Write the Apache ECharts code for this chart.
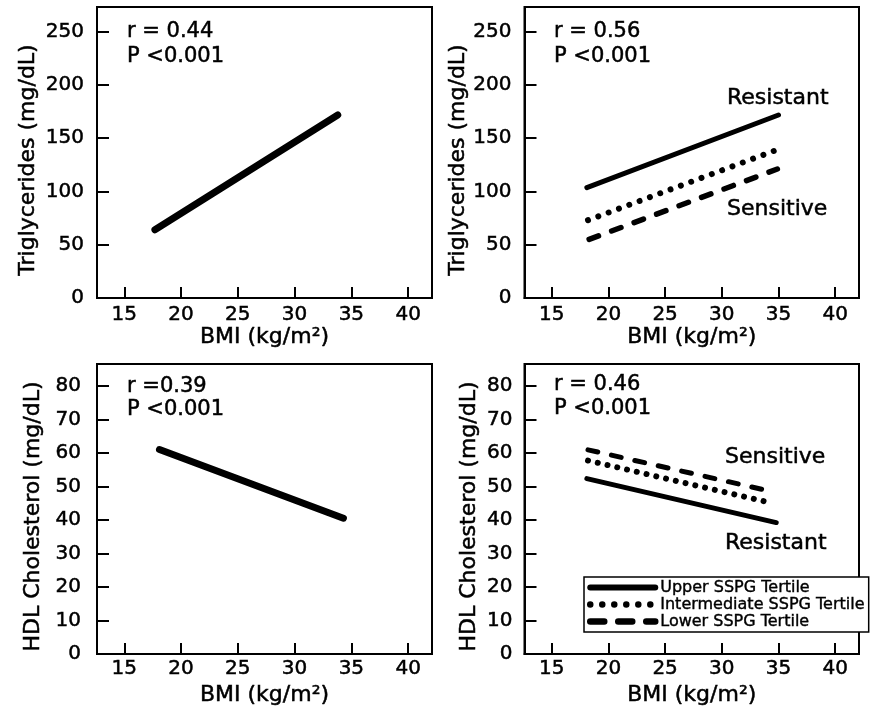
<!DOCTYPE html>
<html><head><meta charset="utf-8">
<script src="https://cdn.jsdelivr.net/npm/echarts@6/dist/echarts.min.js"></script>
<style>html,body{margin:0;padding:0;background:#fff}#c{width:870px;height:708px}</style>
</head><body><div id="c"></div>
<script>
// Tick labels
const bmiTicks = [15, 20, 25, 30, 35, 40];
const tgTicks = [0, 50, 100, 150, 200, 250];
const hdlTicks = [0, 10, 20, 30, 40, 50, 60, 70, 80];

// Regression line endpoints: BMI (x) and value (y)
// Panel A: triglycerides, all subjects
const tgAllBmi = [17.7, 33.8];
const tgAll = [64, 171.7];
// Panel B: triglycerides by SSPG tertile
const tgUpperBmi = [18.1, 35.0];
const tgUpper = [103.5, 171.7];
const tgInterBmi = [18.2, 34.6];
const tgInter = [73, 138];
const tgLowerBmi = [18.3, 34.9];
const tgLower = [55, 121];
// Panel C: HDL cholesterol, all subjects
const hdlAllBmi = [18.1, 34.3];
const hdlAll = [61.0, 40.5];
// Panel D: HDL cholesterol by SSPG tertile
const hdlUpperBmi = [18.1, 34.8];
const hdlUpper = [52.3, 39.2];
const hdlInterBmi = [18.2, 34.2];
const hdlInter = [57.7, 45.2];
const hdlLowerBmi = [18.2, 34.1];
const hdlLower = [60.9, 48.7];

const stats = [['r = 0.44', 'P <0.001'], ['r = 0.56', 'P <0.001'], ['r =0.39', 'P <0.001'], ['r = 0.46', 'P <0.001']];
const tertileNames = ['Upper SSPG Tertile', 'Intermediate SSPG Tertile', 'Lower SSPG Tertile'];
const groupLabels = ['Resistant', 'Sensitive'];

const FF = '"DejaVu Sans", sans-serif';
const TB = {textBorderColor: '#000', textBorderWidth: 0.5};
const chart = echarts.init(document.getElementById('c'), null, {renderer: 'canvas'});

const grids = [
  {left: 97, top: 7, width: 335, height: 291},
  {left: 524.5, top: 7, width: 334.5, height: 291},
  {left: 97, top: 364, width: 335, height: 290},
  {left: 524.5, top: 364, width: 334.5, height: 290}
].map(g => Object.assign(g, {show: true, borderColor: '#000', borderWidth: 2, backgroundColor: 'transparent'}));

function xAx(gi, margin, gap) {
  return {
    type: 'value', gridIndex: gi, min: 12.6, max: 42.1,
    name: 'BMI (kg/m²)', nameLocation: 'middle', nameGap: gap,
    nameTextStyle: Object.assign({fontFamily: FF, fontSize: 22, color: '#000'}, TB),
    axisLine: {show: true, onZero: false, lineStyle: {color: '#000', width: 2}},
    axisTick: {show: true, inside: true, length: 11, customValues: bmiTicks, lineStyle: {color: '#000', width: 2}},
    axisLabel: Object.assign({customValues: bmiTicks, margin: margin, fontFamily: FF, fontSize: 20, color: '#000'}, TB),
    splitLine: {show: false}
  };
}
function yAx(gi, name, max, ticks, margin, gap) {
  return {
    type: 'value', gridIndex: gi, min: 0, max: max,
    name: name, nameLocation: 'middle', nameGap: gap,
    nameTextStyle: Object.assign({fontFamily: FF, fontSize: 22, color: '#000', padding: [0, 15, 0, 0]}, TB),
    axisLine: {show: true, onZero: false, lineStyle: {color: '#000', width: 2}},
    axisTick: {show: true, inside: true, length: 12, customValues: ticks, lineStyle: {color: '#000', width: 2}},
    axisLabel: Object.assign({customValues: ticks, margin: margin, fontFamily: FF, fontSize: 20, color: '#000'}, TB),
    splitLine: {show: false}
  };
}

const thick = {color: '#000', width: 7, cap: 'round'};
const solid = {color: '#000', width: 5, cap: 'round'};
const dotted = {color: '#000', width: 6, type: [0.01, 11], cap: 'round'};
const dashed = {color: '#000', width: 5.5, type: [10, 14], cap: 'round'};

function ln(name, xs, ys, gi, style) {
  return {
    type: 'line', name: name, xAxisIndex: gi, yAxisIndex: gi,
    data: xs.map((x, i) => [x, ys[i]]), symbol: 'none', silent: true,
    lineStyle: style, itemStyle: {color: '#000'}, animation: false
  };
}

function txt(x, y, s, size) {
  return {type: 'text', x: x, y: y, style: {text: s, font: size + 'px ' + FF, fill: '#000', stroke: '#000', lineWidth: 0.5, align: 'left', verticalAlign: 'middle'}};
}
const texts = [];
const statPos = [[127, 32, 57], [554, 32, 57], [127, 387, 410], [554, 385, 409]];
statPos.forEach((p, i) => {
  texts.push(txt(p[0], p[1], stats[i][0], 21));
  texts.push(txt(p[0], p[2], stats[i][1], 21));
});
const labPos = [[727, 98, 0], [727, 209, 1], [725, 457, 1], [725, 543, 0]];
labPos.forEach(p => texts.push(txt(p[0], p[1], groupLabels[p[2]], 22)));

const hidden = {color: 'rgba(0,0,0,0)', borderColor: 'rgba(0,0,0,0)', borderWidth: 0, opacity: 0};
const option = {
  animation: false,
  backgroundColor: '#fff',
  grid: grids,
  xAxis: [xAx(0, 7, 26), xAx(1, 7, 26), xAx(2, 5, 30), xAx(3, 5, 30)],
  yAxis: [
    yAx(0, 'Triglycerides (mg/dL)', 273, tgTicks, 13, 58),
    yAx(1, 'Triglycerides (mg/dL)', 273, tgTicks, 13, 52),
    yAx(2, 'HDL Cholesterol (mg/dL)', 86.5, hdlTicks, 16, 53),
    yAx(3, 'HDL Cholesterol (mg/dL)', 86.5, hdlTicks, 12, 44)
  ],
  legend: {
    orient: 'vertical', left: 584, top: 577,
    padding: [2, 4, 2, 3], itemGap: 0, itemWidth: 65, itemHeight: 10,
    backgroundColor: '#fff', borderColor: '#000', borderWidth: 1.5,
    textStyle: Object.assign({fontFamily: FF, fontSize: 16, color: '#000', lineHeight: 17}, {textBorderColor: '#000', textBorderWidth: 0.4}),
    selectedMode: false,
    itemStyle: hidden,
    lineStyle: {width: 6, color: '#000', cap: 'round'},
    data: [
      {name: tertileNames[0], itemStyle: hidden, lineStyle: {width: 6, type: 'solid', cap: 'round', color: '#000'}},
      {name: tertileNames[1], itemStyle: hidden, lineStyle: {width: 6.5, type: [0.01, 12], cap: 'round', color: '#000'}},
      {name: tertileNames[2], itemStyle: hidden, lineStyle: {width: 6.5, type: [14, 14], cap: 'round', color: '#000'}}
    ]
  },
  graphic: texts,
  series: [
    ln('All subjects TG', tgAllBmi, tgAll, 0, thick),
    ln(tertileNames[0], tgUpperBmi, tgUpper, 1, solid),
    ln(tertileNames[1], tgInterBmi, tgInter, 1, dotted),
    ln(tertileNames[2], tgLowerBmi, tgLower, 1, dashed),
    ln('All subjects HDL', hdlAllBmi, hdlAll, 2, thick),
    ln(tertileNames[0], hdlUpperBmi, hdlUpper, 3, solid),
    ln(tertileNames[1], hdlInterBmi, hdlInter, 3, {color: '#000', width: 6, type: [0.01, 10], cap: 'round'}),
    ln(tertileNames[2], hdlLowerBmi, hdlLower, 3, {color: '#000', width: 5, type: [10, 14], cap: 'round'})
  ]
};
chart.setOption(option);
</script>
</body></html>
